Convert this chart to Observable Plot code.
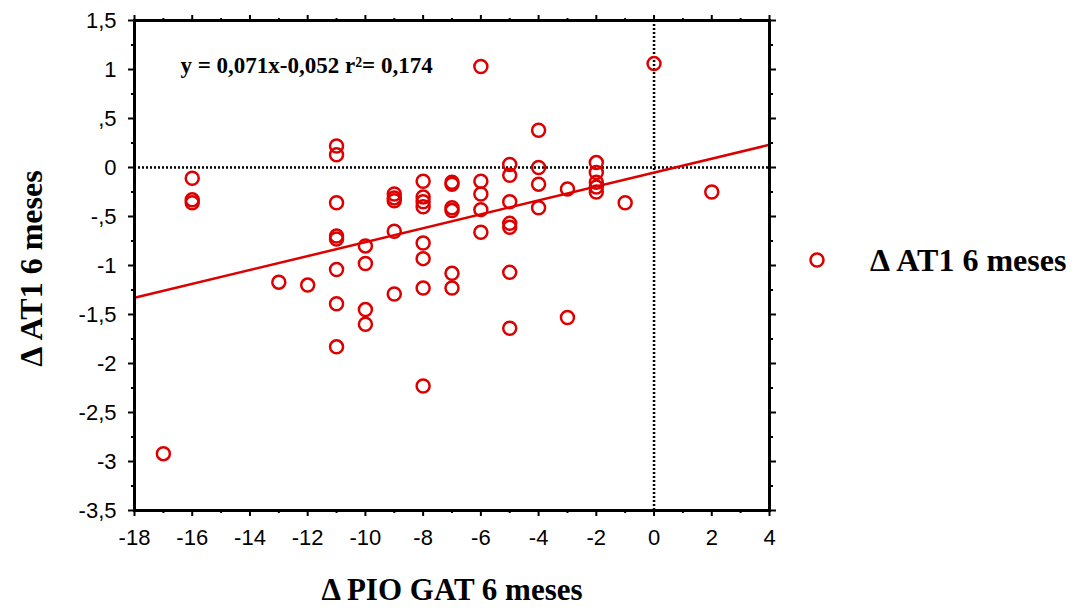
<!DOCTYPE html>
<html>
<head>
<meta charset="utf-8">
<script src="https://cdn.jsdelivr.net/npm/d3@7"></script>
<script src="https://cdn.jsdelivr.net/npm/@observablehq/plot@0.6"></script>
<style>
  html, body { margin: 0; padding: 0; background: white; }
  #wrap { position: relative; width: 1078px; height: 610px; }
  #legend { position: absolute; left: 805px; top: 240px; display: flex; align-items: center;
            font-family: "Liberation Serif", "Times New Roman", serif; font-weight: bold; font-size: 32px; color: #000; }
  #legend svg { margin-right: 41px; }
</style>
</head>
<body>
<div id="wrap"><div id="legend"></div></div>
<script>
// Data: ΔPIO GAT (x) vs ΔAT1 (y), 6 months
const pioGat = [
  -17,
  -16, -16, -16,
  -13,
  -12,
  -11, -11, -11, -11, -11, -11, -11, -11,
  -10, -10, -10, -10,
  -9, -9, -9, -9, -9,
  -8, -8, -8, -8, -8, -8, -8, -8,
  -7, -7, -7, -7, -7, -7,
  -6, -6, -6, -6, -6,
  -5, -5, -5, -5, -5, -5, -5,
  -4, -4, -4, -4,
  -3, -3,
  -2, -2, -2, -2, -2,
  -1,
  0,
  2
];
const at1 = [
  -2.92,
  -0.11, -0.33, -0.36,
  -1.17,
  -1.20,
  0.22, 0.13, -0.36, -0.70, -0.73, -1.04, -1.39, -1.83,
  -0.80, -0.98, -1.45, -1.60,
  -0.27, -0.31, -0.34, -0.65, -1.29,
  -0.14, -0.30, -0.35, -0.40, -0.77, -0.93, -1.23, -2.23,
  -0.15, -0.17, -0.41, -0.44, -1.08, -1.23,
  1.03, -0.14, -0.27, -0.43, -0.66,
  0.03, -0.08, -0.35, -0.57, -0.61, -1.07, -1.64,
  0.38, 0.00, -0.17, -0.41,
  -0.22, -1.53,
  0.05, -0.05, -0.15, -0.20, -0.25,
  -0.36,
  1.06,
  -0.25
];
const slope = 0.071;
const intercept = -0.052;
const equationText = "y = 0,071x-0,052 r\u00B2= 0,174";
const xTitle = "\u0394 PIO GAT 6 meses";
const yTitle = "\u0394 AT1 6 meses";
const seriesName = "\u0394 AT1 6 meses";
const xDomain = [-18, 4];
const yDomain = [-3.5, 1.5];
const xMajor = d3.range(-18, 4.01, 2);
const xMinor = d3.range(-17, 4, 2);
const yMajor = d3.range(-3.5, 1.51, 0.5);
const yMinor = d3.range(-3.25, 1.5, 0.5);

const red = "#dc0000";
const points = pioGat.map((x, i) => ({x, y: at1[i]}));
const regLine = xDomain.map(x => ({x, y: slope * x + intercept}));

const fmt = d => {
  let s = String(Math.round(d * 100) / 100).replace(".", ",");
  s = s.replace(/^(-?)0,/, "$1,");
  return s;
};
const none = () => "";
const axisCommon = {label: null, strokeWidth: 2, fontSize: 22};
const serif = "'Liberation Serif', 'Times New Roman', serif";

const chart = Plot.plot({
  width: 1078,
  height: 610,
  marginLeft: 134,
  marginRight: 309,
  marginTop: 20,
  marginBottom: 100,
  style: {fontFamily: "'Liberation Sans', Arial, sans-serif", fontSize: "22px", background: "white", color: "black"},
  x: {domain: xDomain},
  y: {domain: yDomain},
  marks: [
    Plot.ruleY([0], {stroke: "black", strokeWidth: 2.5, strokeDasharray: "2,2"}),
    Plot.ruleX([0], {stroke: "black", strokeWidth: 2.5, strokeDasharray: "2,2"}),
    Plot.line(regLine, {x: "x", y: "y", stroke: red, strokeWidth: 2.5}),
    Plot.dot(points, {x: "x", y: "y", r: 6.5, stroke: red, strokeWidth: 2.5, fill: "none"}),
    Plot.axisX({...axisCommon, anchor: "bottom", ticks: xMajor, tickSize: 6, tickPadding: 13, tickFormat: fmt}),
    Plot.axisX({...axisCommon, anchor: "bottom", ticks: xMinor, tickSize: 3, tickFormat: none}),
    Plot.axisX({...axisCommon, anchor: "top", ticks: xMajor, tickSize: 6, tickFormat: none}),
    Plot.axisX({...axisCommon, anchor: "top", ticks: xMinor, tickSize: 3, tickFormat: none}),
    Plot.axisY({...axisCommon, anchor: "left", ticks: yMajor, tickSize: 6, tickPadding: 12, tickFormat: fmt}),
    Plot.axisY({...axisCommon, anchor: "left", ticks: yMinor, tickSize: 3, tickFormat: none}),
    Plot.axisY({...axisCommon, anchor: "right", ticks: yMajor, tickSize: 6, tickFormat: none}),
    Plot.axisY({...axisCommon, anchor: "right", ticks: yMinor, tickSize: 3, tickFormat: none}),
    Plot.frame({stroke: "black", strokeWidth: 3}),
    Plot.text([equationText], {frameAnchor: "top-left", dx: 46, dy: 45, text: d => d, textAnchor: "start",
      lineAnchor: "middle", fontFamily: serif, fontWeight: "bold", fontSize: 23}),
    Plot.text([xTitle], {frameAnchor: "bottom", dy: 80, text: d => d, textAnchor: "middle", lineAnchor: "middle",
      fontFamily: serif, fontWeight: "bold", fontSize: 31}),
    Plot.text([yTitle], {frameAnchor: "left", dx: -103, dy: 3, rotate: -90, text: d => d, textAnchor: "middle",
      lineAnchor: "middle", fontFamily: serif, fontWeight: "bold", fontSize: 32})
  ]
});
const wrap = document.getElementById("wrap");
wrap.insertBefore(chart, wrap.firstChild);

const legend = document.getElementById("legend");
legend.innerHTML = `<svg width="24" height="40"><circle cx="12" cy="20" r="6.5" fill="none" stroke="${red}" stroke-width="2.5"></circle></svg><span></span>`;
legend.querySelector("span").textContent = seriesName;
</script>
</body>
</html>
